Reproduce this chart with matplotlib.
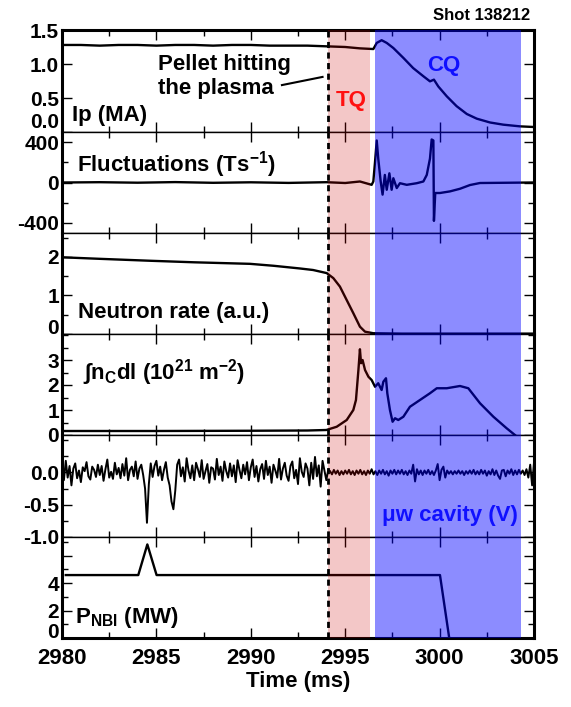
import numpy as np
import matplotlib
matplotlib.use("Agg")
import matplotlib.pyplot as plt
from matplotlib.ticker import MultipleLocator

plt.rcParams['font.family'] = ['Liberation Sans', 'DejaVu Sans']
plt.rcParams['font.weight'] = 'bold'
plt.rcParams['axes.unicode_minus'] = False
plt.rcParams['mathtext.fontset'] = 'custom'
plt.rcParams['mathtext.rm'] = 'Liberation Sans:bold'
plt.rcParams['mathtext.it'] = 'Liberation Sans:bold'
plt.rcParams['mathtext.bf'] = 'Liberation Sans:bold'
plt.rcParams['mathtext.sf'] = 'Liberation Sans:bold'

# ---- data ----
# plasma current (MA)
ip_t = [2980.0, 2981.0, 2982.0, 2983.0, 2984.0, 2985.0, 2986.0, 2987.0, 2988.0,
        2989.0, 2990.0, 2991.0, 2992.0, 2993.0, 2994.0, 2995.0, 2995.78, 2996.49,
        2996.67, 2996.93, 2997.2, 2997.55, 2998.08, 2998.6, 2999.14, 2999.49,
        2999.70, 2999.93, 3000.38, 3000.9, 3001.44, 3001.97, 3002.67, 3003.37,
        3004.26, 3004.96]
ip_v = [1.28, 1.28, 1.27, 1.28, 1.28, 1.27, 1.28, 1.28, 1.27,
        1.28, 1.28, 1.27, 1.27, 1.27, 1.26, 1.25, 1.23, 1.22,
        1.31, 1.35, 1.31, 1.235, 1.09, 0.94, 0.82, 0.745,
        0.77, 0.67, 0.525, 0.38, 0.265, 0.196, 0.14, 0.108,
        0.083, 0.074]

# magnetic fluctuations (T/s)
fl_t = [2980.0, 2982.0, 2984.0, 2986.0, 2988.0, 2990.0, 2992.0, 2994.0, 2995.0,
        2995.78, 2996.40, 2996.49, 2996.58, 2996.67, 2996.75, 2996.88, 2996.98,
        2997.1, 2997.2, 2997.34, 2997.46, 2997.55, 2997.73, 2997.9, 2998.26,
        2998.79, 2999.14, 2999.32, 2999.49, 2999.58, 2999.67, 2999.70, 2999.77,
        3000.02, 3000.55, 3001.08, 3001.61, 3002.14, 3004.95]
fl_v = [0, 3, -2, 4, -3, 2, -4, 3, -5,
        10, -23, 10, 205, 416, 237, 10, -120,
        75, -72, 91, -72, 42, -55, -7, -23,
        -7, 10, 75, 237, 426, 416, -380, -104,
        -104, -88, -62, -25, -5, 0]

# neutron rate (a.u.)
nr_t = [2980.0, 2982.0, 2984.66, 2987.0, 2989.96, 2991.2, 2992.6, 2993.3,
        2994.02, 2994.37, 2994.72, 2995.08, 2995.43, 2995.78, 2996.05,
        2996.49, 2998.0, 3000.0, 3002.0, 3005.0]
nr_v = [1.99, 1.95, 1.90, 1.86, 1.82, 1.77, 1.70, 1.66,
        1.58, 1.45, 1.23, 0.88, 0.54, 0.19, 0.06,
        0.02, 0.01, 0.01, 0.01, 0.01]

# line integrated density (1e21 m^-2)
ne_t = [2980.0, 2985.0, 2990.0, 2993.0, 2994.0, 2994.55, 2995.08, 2995.43,
        2995.57, 2995.7, 2995.78, 2995.84, 2995.92, 2996.05, 2996.23, 2996.4,
        2996.58, 2996.75, 2996.93, 2997.02, 2997.16, 2997.23, 2997.37, 2997.51,
        2997.64, 2997.81, 2998.08, 2998.43, 2998.96, 2999.49, 2999.85, 3000.38,
        3001.08, 3001.52, 3002.14, 3002.85, 3003.55, 3003.99]
ne_v = [0.16, 0.16, 0.17, 0.18, 0.2, 0.33, 0.6, 1.0,
        1.4, 2.6, 3.43, 2.87, 3.0, 2.6, 2.33, 2.2,
        1.93, 2.07, 1.8, 2.13, 2.27, 1.67, 1.0, 0.53,
        0.67, 0.6, 0.73, 1.13, 1.4, 1.67, 1.87, 1.87,
        1.96, 1.87, 1.27, 0.73, 0.27, 0.0]

# microwave cavity signal (V), sampled every 0.1 ms from 2980 to 3005
mw_v = [0.05, -0.12, 0.18, -0.08, 0.10, -0.20, 0.06, 0.14, -0.09, 0.03,
        -0.15, 0.08, 0.02, 0.16, -0.06, -0.11, 0.09, 0.04, -0.07, 0.12,
        -0.04, 0.10, -0.13, 0.05, 0.20, -0.08, 0.01, -0.10, 0.15, -0.03,
        0.07, -0.09, 0.13, -0.05, 0.22, -0.12, 0.04, 0.09, -0.06, 0.17,
        -0.10, 0.06, 0.12, -0.04, -0.25, -0.78, -0.18, 0.14, -0.07, 0.10,
        0.18, -0.05, 0.09, -0.12, 0.04, 0.16, -0.08, -0.20, -0.45, -0.57,
        -0.28, 0.12, 0.20, -0.06, 0.08, -0.14, 0.22, 0.03, -0.09, 0.11,
        -0.12, 0.15, 0.05, -0.07, 0.19, -0.10, 0.02, 0.13, -0.16, 0.08,
        0.06, -0.11, 0.21, -0.04, 0.09, -0.13, 0.17, 0.02, -0.08, 0.14,
        -0.06, 0.11, -0.15, 0.19, 0.04, -0.09, 0.12, -0.03, 0.16, -0.12,
        0.08, 0.20, -0.07, 0.10, -0.14, 0.05, 0.13, -0.10, 0.18, -0.04,
        0.09, -0.16, 0.12, 0.03, -0.08, 0.21, -0.11, 0.06, 0.15, -0.05,
        -0.13, 0.10, 0.17, -0.09, 0.04, -0.18, 0.22, 0.01, -0.07, 0.14,
        0.06, -0.20, 0.15, -0.10, 0.24, -0.06, 0.11, -0.22, 0.18, 0.03,
        -0.12, 0.04, 0.02, -0.03, 0.04, -0.02, 0.03, -0.04, 0.02, -0.03,
        0.03, -0.02, 0.04, -0.03, 0.02, -0.04, 0.03, -0.02, 0.04, -0.03,
        0.02, -0.04, 0.03, -0.02, 0.05, -0.03, 0.02, -0.04, 0.03, -0.02,
        0.04, -0.03, 0.02, -0.05, 0.03, -0.02, 0.04, -0.03, 0.03, -0.02,
        0.04, -0.03, 0.02, -0.04, 0.03, -0.02, 0.12, -0.14, 0.05, -0.03,
        0.03, -0.04, 0.03, -0.02, 0.04, -0.03, 0.02, -0.04, 0.03, 0.13,
        -0.12, 0.04, 0.09, -0.08, 0.03, -0.02, 0.02, -0.03, 0.02, -0.02,
        0.03, -0.02, 0.02, -0.04, 0.02, -0.02, 0.03, -0.02, 0.04, -0.03,
        0.02, -0.03, 0.04, -0.02, 0.03, -0.05, 0.02, -0.03, 0.05, -0.04,
        0.03, -0.05, -0.10, 0.03, 0.04, -0.06, 0.03, -0.02, 0.05, -0.04,
        0.03, -0.03, 0.04, -0.02, 0.03, -0.04, 0.05, -0.08, 0.12, -0.20,
        0.15]
mw_t = np.linspace(2980.0, 3005.0, len(mw_v))

# neutral beam power (MW)
nb_t = [2980.2, 2984.04, 2984.52, 2985.01, 3000.02, 3000.51]
nb_v = [4.58, 4.58, 6.81, 4.58, 4.58, 0.0]

pellet_t = 2994.1
tq_span = (2994.1, 2996.3)
cq_span = (2996.6, 3004.3)

# ---- layout ----
W, H = 571, 707
fig = plt.figure(figsize=(W / 100, H / 100), dpi=100)
edges = [30, 132, 233, 334, 435, 537, 638]
x0, x1 = 62, 534
axes = []
for i in range(6):
    top, bot = edges[i], edges[i + 1]
    ax = fig.add_axes([x0 / W, 1 - bot / H, (x1 - x0) / W, (bot - top) / H])
    axes.append(ax)

ax_ip, ax_fl, ax_nr, ax_ne, ax_mw, ax_nb = axes

lw = 1.7
ax_ip.plot(ip_t, ip_v, color="black", lw=lw)
ax_fl.plot(fl_t, fl_v, color="black", lw=lw)
ax_nr.plot(nr_t, nr_v, color="black", lw=lw)
ax_ne.plot(ne_t, ne_v, color="black", lw=lw)
ax_mw.plot(mw_t, mw_v, color="black", lw=1.4)
ax_nb.plot(nb_t, nb_v, color="black", lw=lw)

ax_ip.set_ylim(0, 1.5)
ax_ip.set_yticks([0, 0.5, 1.0, 1.5], ["0.0", "0.5", "1.0", "1.5"])
ax_fl.set_ylim(-500, 500)
ax_fl.set_yticks([-400, 0, 400])
ax_fl.yaxis.set_minor_locator(MultipleLocator(200))
ax_nr.set_ylim(0, 2.62)
ax_nr.set_yticks([0, 1, 2])
ax_nr.yaxis.set_minor_locator(MultipleLocator(0.5))
ax_ne.set_ylim(0, 4.04)
ax_ne.set_yticks([0, 1, 2, 3])
ax_ne.yaxis.set_minor_locator(MultipleLocator(0.5))
ax_mw.set_ylim(-1.0, 0.58)
ax_mw.set_yticks([-1.0, -0.5, 0.0], ["-1.0", "-0.5", "0.0"])
ax_mw.yaxis.set_minor_locator(MultipleLocator(0.25))
ax_nb.set_ylim(0, 7.35)
ax_nb.set_yticks([0, 2, 4, 6], ["0", "2", "4", ""])
ax_nb.yaxis.set_minor_locator(MultipleLocator(1))

for i, ax in enumerate(axes):
    ax.set_xlim(2980, 3005)
    ax.xaxis.set_major_locator(MultipleLocator(5))
    ax.xaxis.set_minor_locator(MultipleLocator(2.5))
    ax.tick_params(which="both", direction="in", top=True, right=True,
                   labelsize=15, pad=2, width=1)
    ax.tick_params(which="major", length=7)
    ax.tick_params(which="minor", length=4)
    if i < 5:
        ax.tick_params(labelbottom=False)
    for s in ax.spines.values():
        s.set_linewidth(1.0)
    ax.spines["left"].set_linewidth(2.2)
    ax.spines["right"].set_linewidth(2.2)
    ax.axvspan(*tq_span, color=(0.8, 0.0, 0.0), alpha=0.22, lw=0, zorder=3)
    ax.axvspan(*cq_span, color=(0.0, 0.0, 1.0), alpha=0.45, lw=0, zorder=3)
    ax.axvline(pellet_t, color="black", lw=2, ls=(0, (2.2, 1.6)), zorder=4)

# lift the lowest labels so they do not collide with the panel below
ax_ip.get_yticklabels()[0].set_verticalalignment("bottom")
ax_nr.get_yticklabels()[0].set_verticalalignment("baseline")
ax_nb.get_yticklabels()[0].set_verticalalignment("baseline")

ax_ip.spines["top"].set_linewidth(2.2)
ax_nb.spines["bottom"].set_linewidth(2.2)
ax_nb.set_xticks([2980, 2985, 2990, 2995, 3000, 3005])
ax_nb.tick_params(axis="x", labelsize=16, pad=7)
ax_nb.set_xlabel("Time (ms)", fontsize=16, fontweight="bold", labelpad=2)

# ---- annotations ----
lab = dict(fontsize=16, fontweight="bold", va="center", ha="left")
ax_ip.text(2980.55, 0.24, "Ip (MA)", **lab)
ax_ip.text(2985.1, 0.82, "Pellet hitting\nthe plasma", fontsize=16,
           fontweight="bold", va="center", ha="left", linespacing=1.2)
ax_ip.plot([2991.65, 2993.8], [0.69, 0.81], color="black", lw=1.5)
ax_ip.text(2995.3, 0.47, "TQ", color="#ff1010", fontsize=16,
           fontweight="bold", ha="center", va="center", zorder=5)
ax_ip.text(3000.2, 0.98, "CQ", color="#1010ff", fontsize=16,
           fontweight="bold", ha="center", va="center", zorder=5)
fig.text(530 / W, 1 - 15 / H, "Shot 138212", fontsize=12, fontweight="bold",
         ha="right", va="center")
ax_fl.text(2980.8, 175, "Fluctuations (Ts$^{-1}$)", **lab)
ax_nr.text(2980.85, 0.57, "Neutron rate (a.u.)", **lab)
ax_ne.text(2981.1, 2.5, r"$\int$n$_{\rm C}$dl (10$^{21}$ m$^{-2}$)", **lab)
ax_mw.text(2996.95, -0.66, "\u03bcw cavity (V)", color="#1010ff",
           fontsize=16, fontweight="bold", va="center", ha="left", zorder=5)
ax_nb.text(2980.7, 1.5, "P$_{\\rm NBI}$ (MW)", **lab)

fig.savefig("out.png", dpi=100)
